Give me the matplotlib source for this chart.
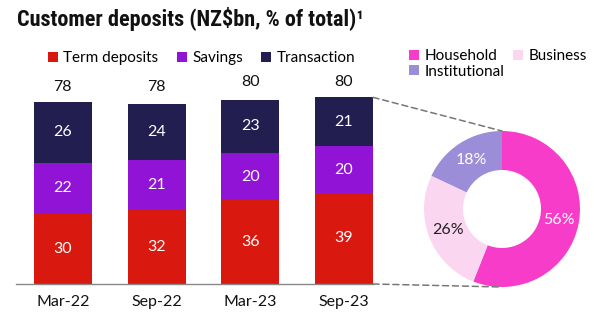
import matplotlib
matplotlib.use("Agg")
import matplotlib.pyplot as plt
from matplotlib.patches import ConnectionPatch
import numpy as np

# bar data (NZ$bn)
periods = ["Mar-22", "Sep-22", "Mar-23", "Sep-23"]
term = [30, 32, 36, 39]
savings = [22, 21, 20, 20]
transaction = [26, 24, 23, 21]
totals = [78, 78, 80, 80]

# donut data (% of total)
segments = ["Household", "Business", "Institutional"]
shares = [56, 26, 18]

red = "#D9190F"
purple = "#9013D6"
navy = "#221F50"
pink = "#F63CC9"
lightpink = "#FBD6F1"
lavender = "#9B8DD8"

plt.rcParams["font.family"] = ["Lato", "DejaVu Sans"]

W, H = 594, 330
fig = plt.figure(figsize=(W / 100, H / 100), dpi=100)

fig.text(17 / W, 1 - 19 / H, "Customer deposits (NZ$bn, % of total)\u00b9",
         family=["Liberation Sans Narrow", "Roboto Condensed", "Roboto", "DejaVu Sans"],
         weight="bold", stretch="condensed",
         fontsize=16, ha="left", va="center", color="#111111")

# ---- stacked bars
ax = fig.add_axes([16 / W, 46 / H, 357 / W, 210 / H])
x = np.arange(len(periods))
w = 0.62
b1 = ax.bar(x, term, w, color=red, label="Term deposits")
b2 = ax.bar(x, savings, w, bottom=term, color=purple, label="Savings")
bot3 = [t + s for t, s in zip(term, savings)]
b3 = ax.bar(x, transaction, w, bottom=bot3, color=navy, label="Transaction")

for i in range(len(x)):
    ax.text(x[i], term[i] / 2, str(term[i]), ha="center", va="center", color="white", fontsize=11.5)
    ax.text(x[i], term[i] + savings[i] / 2, str(savings[i]), ha="center", va="center", color="white", fontsize=11.5)
    ax.text(x[i], bot3[i] + transaction[i] / 2, str(transaction[i]), ha="center", va="center", color="white", fontsize=11.5)
    ax.text(x[i], totals[i] + 6.5, str(totals[i]), ha="center", va="center", color="#111111", fontsize=11.5)

ax.set_xlim(-0.5, 3.31)
ax.set_ylim(0, 90)
ax.set_xticks(x)
ax.set_xticklabels(periods, fontsize=11.5, color="#111111")
ax.tick_params(axis="x", length=0, pad=8)
ax.set_yticks([])
for s in ["top", "right", "left"]:
    ax.spines[s].set_visible(False)
ax.spines["bottom"].set_color("#888888")
ax.spines["bottom"].set_linewidth(1)
ax.patch.set_alpha(0)

fig.legend(handles=[b1, b2, b3], loc="center left", bbox_to_anchor=(48 / W, 1 - 58 / H),
           ncol=3, frameon=False, fontsize=11, handlelength=0.65, handleheight=0.65,
           handletextpad=0.35, columnspacing=1.2, borderpad=0, borderaxespad=0)

# ---- donut
R = 78
pax = fig.add_axes([(502 - 80) / W, (330 - 209 - 80) / H, 160 / W, 160 / H])
wedges, _ = pax.pie(shares, colors=[pink, lightpink, lavender], startangle=90, counterclock=False,
                    radius=R / 80, wedgeprops=dict(width=0.5 * R / 80, linewidth=0))
pax.set_xlim(-1, 1)
pax.set_ylim(-1, 1)
pax.set_aspect("equal")
lab_r = 0.74 * R / 80
lab_col = ["white", "#222222", "white"]
for wd, v, c in zip(wedges, shares, lab_col):
    ang = np.deg2rad((wd.theta1 + wd.theta2) / 2)
    pax.text(lab_r * np.cos(ang), lab_r * np.sin(ang), f"{v}%", ha="center", va="center",
             color=c, fontsize=11.5)

fig.legend(handles=[wedges[0], wedges[2], wedges[1]],
           labels=[segments[0], segments[2], segments[1]],
           loc="upper left", bbox_to_anchor=(409 / W, 1 - 49 / H), ncol=2, frameon=False,
           fontsize=11, handlelength=0.65, handleheight=0.65, handletextpad=0.35,
           columnspacing=0.6, labelspacing=0.1, borderpad=0, borderaxespad=0)

# dashed connectors from the last bar to the donut
for ya, yb in [(totals[-1], R / 80), (0, -R / 80)]:
    con = ConnectionPatch(xyA=(x[-1] + w / 2, ya), coordsA=ax.transData,
                          xyB=(0, yb), coordsB=pax.transData,
                          linestyle=(0, (4, 2.5)), color="#777777", linewidth=1.1)
    fig.add_artist(con)

fig.savefig("out.png", dpi=100)
